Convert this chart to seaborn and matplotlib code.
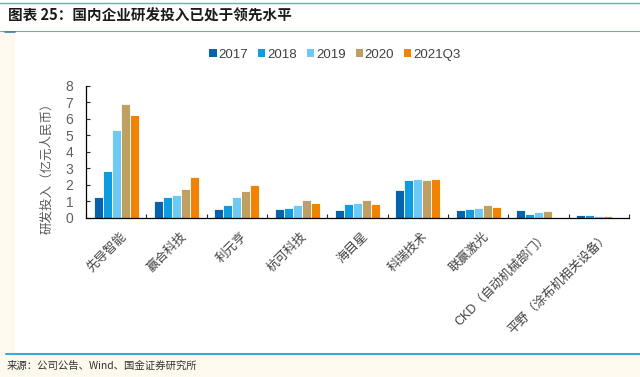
import numpy as np
import pandas as pd
import matplotlib.pyplot as plt
import matplotlib.transforms as mtransforms
import seaborn as sns
from matplotlib.patches import Patch, Rectangle
from matplotlib.lines import Line2D

companies = ['先导智能', '赢合科技', '利元亨', '杭可科技', '海目星', '科瑞技术',
             '联赢激光', 'CKD（自动机械部门）', '平野（涂布机相关设备）']
years = ['2017', '2018', '2019', '2020', '2021Q3']
v2017 = [1.24, 1.03, 0.51, 0.51, 0.49, 1.66, 0.45, 0.49, 0.14]
v2018 = [2.83, 1.24, 0.75, 0.59, 0.83, 2.30, 0.51, 0.24, 0.14]
v2019 = [5.31, 1.36, 1.27, 0.75, 0.89, 2.35, 0.61, 0.34, 0.10]
v2020 = [6.89, 1.74, 1.64, 1.05, 1.07, 2.30, 0.75, 0.42, 0.10]
v2021q3 = [6.20, 2.47, 1.96, 0.91, 0.85, 2.35, 0.67, np.nan, np.nan]
colors = ['#0563ae', '#0f9be0', '#6ccaf5', '#bf9f62', '#f08300']

df = pd.DataFrame({'公司': companies, '2017': v2017, '2018': v2018, '2019': v2019,
                   '2020': v2020, '2021Q3': v2021q3})
long = df.melt(id_vars='公司', var_name='年份', value_name='值')

sns.set_style('ticks')
plt.rcParams['font.family'] = ['Liberation Sans', 'Noto Sans CJK SC', 'DejaVu Sans']

fig = plt.figure(figsize=(6.4, 3.77), dpi=100, facecolor='#fdf9ef')
# white panels behind chart
fig.patches.append(Rectangle((15 / 640, 1 - 354 / 377), 625 / 640, (354 - 32) / 377,
                             transform=fig.transFigure, facecolor='white', edgecolor='none', zorder=-5))
fig.patches.append(Rectangle((0, 1 - 31 / 377), 1, 31 / 377,
                             transform=fig.transFigure, facecolor='white', edgecolor='none', zorder=-5))

ax = fig.add_axes([86 / 640, 1 - 217.7 / 377, (629 - 86) / 640, (217.7 - 85.7) / 377])
ax.set_zorder(2)
ax.set_facecolor('none')
sns.barplot(data=long, x='公司', y='值', hue='年份', hue_order=years, order=companies,
            palette=colors, width=0.75, edgecolor='white', linewidth=0.6,
            legend=False, ax=ax, saturation=1)

ax.set_ylim(0, 8)
ax.set_xlim(-0.5, len(companies) - 0.5)
ax.set_yticks(range(0, 9))
ax.tick_params(axis='y', direction='in', length=3, labelsize=10, labelcolor='#606060',
               width=0.8, pad=9)
ax.set_xticks(range(len(companies)))
ax.set_xticklabels(companies, rotation=45, ha='right', rotation_mode='anchor',
                   fontsize=9, color='#404040')
ax.tick_params(axis='x', length=0, pad=9)
shift = mtransforms.ScaledTranslation(4 / 100, 0, fig.dpi_scale_trans)
for lbl in ax.get_xticklabels():
    lbl.set_transform(lbl.get_transform() + shift)
ax.set_xticks(np.arange(-0.5, len(companies)), minor=True)
ax.tick_params(axis='x', which='minor', direction='in', length=3, width=0.8)
ax.set_xlabel('')
ax.set_ylabel('')
for s in ['top', 'right']:
    ax.spines[s].set_visible(False)
for s in ['left', 'bottom']:
    ax.spines[s].set_linewidth(0.9)
    ax.spines[s].set_color('black')

fig.text(47 / 640, 1 - 165 / 377, '研发投入（亿元人民币）', rotation=90, ha='center', va='center',
         fontsize=9, color='#595959')

handles = [Patch(facecolor=c, edgecolor='none') for c in colors]
fig.legend(handles, years, loc='center', bbox_to_anchor=(335 / 640, 1 - 55 / 377), ncol=5,
           frameon=False, fontsize=9.5, handlelength=0.55, handleheight=0.55,
           handletextpad=0.15, columnspacing=0.75, labelcolor='#404040')

fig.text(8 / 640, 1 - 16 / 377, '图表 25：国内企业研发投入已处于领先水平', ha='left', va='center',
         fontsize=10.5, fontweight='bold', color='#1a1a1a', family=['Noto Sans CJK SC', 'DejaVu Sans'])
fig.lines.append(Line2D([0, 1], [1 - 2.5 / 377] * 2, transform=fig.transFigure, color='#4db3e0', lw=1))
fig.lines.append(Line2D([0, 1], [1 - 31 / 377] * 2, transform=fig.transFigure, color='#4db3e0', lw=0.8))
fig.lines.append(Line2D([5 / 640, 15 / 640], [1 - 32 / 377] * 2, transform=fig.transFigure, color='#3a7fb0', lw=1.2))
fig.lines.append(Line2D([6 / 640, 1], [1 - 354 / 377] * 2, transform=fig.transFigure, color='#3aaadc', lw=1.5))
fig.text(7 / 640, 1 - 366 / 377, '来源：公司公告、Wind、国金证券研究所', ha='left', va='center',
         fontsize=7.5, color='#333333', family=['Noto Sans CJK SC', 'DejaVu Sans'])

fig.savefig('out.png', dpi=100, facecolor=fig.get_facecolor())
